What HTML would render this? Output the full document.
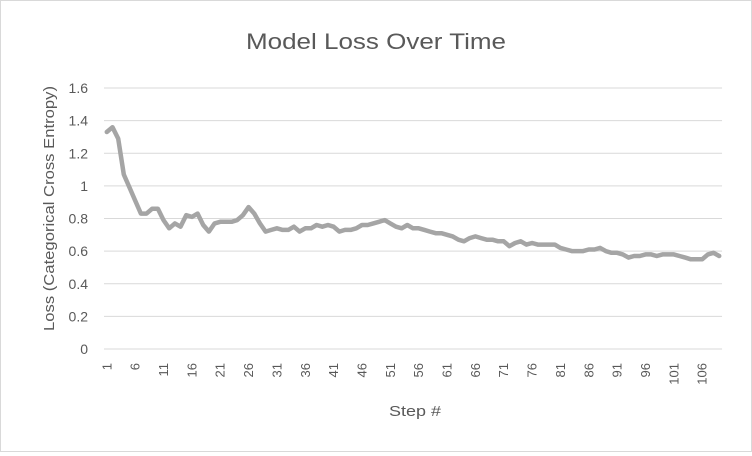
<!DOCTYPE html>
<html><head><meta charset="utf-8"><style>
body{margin:0;background:#fff;font-family:"Liberation Sans",sans-serif}
#c{position:relative;width:750px;height:450px;border:1px solid #d9d9d9;background:#fff}
</style></head><body>
<div id="c">
<svg id="s" width="750" height="450"></svg>
</div>
<script>
const categories=[];for(let i=1;i<=109;i++)categories.push(i);
const lossValues=[1.33,1.36,1.29,1.07,0.99,0.91,0.83,0.83,0.86,0.86,0.79,0.74,0.77,0.75,0.82,0.81,0.83,0.76,0.72,0.77,0.78,0.78,0.78,0.79,0.82,0.87,0.83,0.77,0.72,0.73,0.74,0.73,0.73,0.75,0.72,0.74,0.74,0.76,0.75,0.76,0.75,0.72,0.73,0.73,0.74,0.76,0.76,0.77,0.78,0.79,0.77,0.75,0.74,0.76,0.74,0.74,0.73,0.72,0.71,0.71,0.70,0.69,0.67,0.66,0.68,0.69,0.68,0.67,0.67,0.66,0.66,0.63,0.65,0.66,0.64,0.65,0.64,0.64,0.64,0.64,0.62,0.61,0.60,0.60,0.60,0.61,0.61,0.62,0.60,0.59,0.59,0.58,0.56,0.57,0.57,0.58,0.58,0.57,0.58,0.58,0.58,0.57,0.56,0.55,0.55,0.55,0.58,0.59,0.57];
const yTicks=[0,0.2,0.4,0.6,0.8,1,1.2,1.4,1.6];
const ns="http://www.w3.org/2000/svg",s=document.getElementById('s');
const x0=103,stepW=5.67,yBase=348,yTop=87;
function xPos(i){return x0+stepW*(i+0.5);}
function yPos(v){return yBase-(v/1.6)*(yBase-yTop);}
function mk(t,a,txt){const e=document.createElementNS(ns,t);for(const k in a)e.setAttribute(k,a[k]);if(txt!==undefined)e.textContent=txt;s.appendChild(e);return e;}
const xEnd=x0+stepW*categories.length;
yTicks.forEach(v=>{
 const g=mk('line',{x1:x0,x2:xEnd,y1:yPos(v),y2:yPos(v),stroke:'#d9d9d9','stroke-width':1});
 
 
 const t=mk('text',{x:87,y:yPos(v)+5,'text-anchor':'end','font-size':14,fill:'#595959'},String(v));
 
 
});
categories.forEach((c,i)=>{
 if(i%5!==0)return;
 const x=xPos(i),y=362;
 const t=mk('text',{x:x,y:y,'text-anchor':'end','font-size':13,fill:'#595959',transform:`rotate(-90 ${x} ${y}) translate(0 4.5)`},String(c));
 
 
});
const pts=lossValues.map((v,i)=>xPos(i).toFixed(1)+','+yPos(v).toFixed(1)).join(' ');
const l=mk('polyline',{points:pts,fill:'none',stroke:'#a5a5a5','stroke-width':4.5,'stroke-linejoin':'round','stroke-linecap':'round'});


const ti=mk('text',{x:245,y:48,'font-size':22,fill:'#595959',textLength:260,lengthAdjust:'spacingAndGlyphs'},'Model Loss Over Time');


const xt=mk('text',{x:388,y:415,'font-size':15,fill:'#595959',textLength:52,lengthAdjust:'spacingAndGlyphs'},'Step #');


const yt=mk('text',{x:0,y:0,'font-size':15,fill:'#595959',textLength:245,lengthAdjust:'spacingAndGlyphs',transform:'translate(53 330) rotate(-90)'},'Loss  (Categorical Cross Entropy)');


</script>
</body></html>
